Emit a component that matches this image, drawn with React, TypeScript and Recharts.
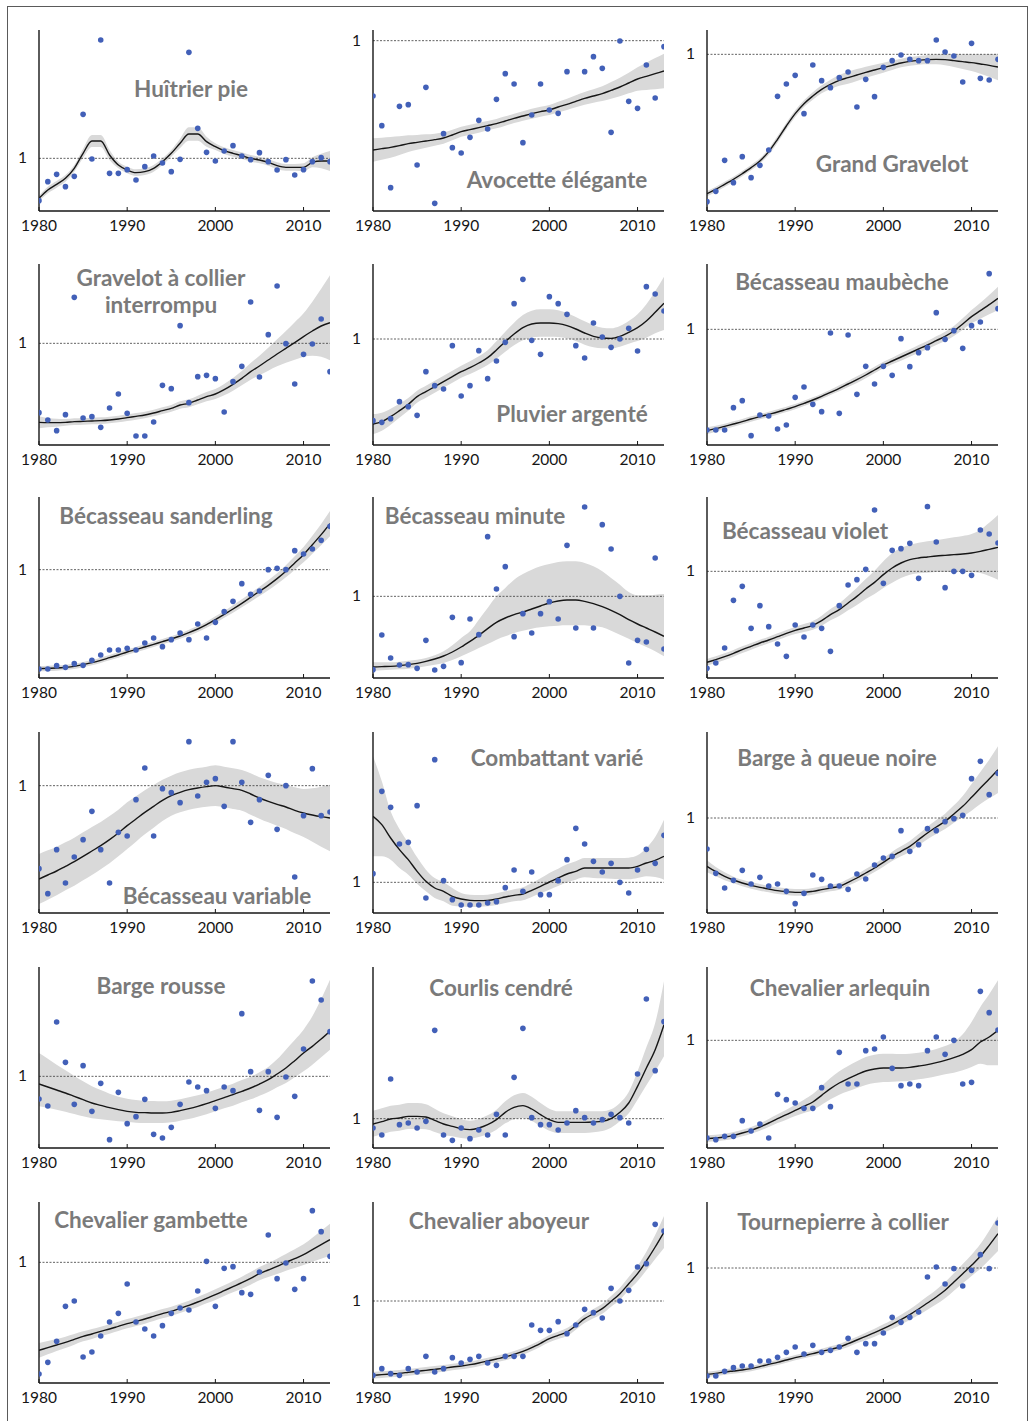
import React from 'react'
import {
  Area,
  ComposedChart,
  Line,
  ReferenceLine,
  Scatter,
  XAxis,
  YAxis,
} from 'recharts'

// survey years shared by every panel
const years = [
  1980, 1981, 1982, 1983, 1984, 1985, 1986, 1987, 1988, 1989, 1990, 1991,
  1992, 1993, 1994, 1995, 1996, 1997, 1998, 1999, 2000, 2001, 2002, 2003,
  2004, 2005, 2006, 2007, 2008, 2009, 2010, 2011, 2012, 2013,
]
const xTicks = [1980, 1990, 2000, 2010]

// Readings are heights above each panel's baseline; `one` is the level of index 1.
// The plot box is 543 of these units tall.
const PLOT_TOP = 543

const huitrierPts = [31, 88, 110, 73, 104, 290, 156, 513, 113, 113, 124, 93, 133, 165, 144, 118, 155, 476, 248, 176, 150, 180, 196, 165, 154, 175, 148, 123, 154, 108, 124, 148, 160, 148]
const huitrierFit = [38, 63, 80, 98, 128, 173, 210, 210, 168, 138, 123, 115, 118, 128, 148, 173, 203, 231, 231, 208, 193, 181, 173, 166, 158, 153, 146, 136, 131, 131, 131, 146, 150, 150]
const huitrierBand = [8, 10, 10, 10, 10, 14, 18, 18, 15, 10, 10, 10, 10, 10, 10, 10, 14, 20, 20, 15, 10, 10, 10, 10, 10, 10, 10, 10, 10, 10, 12, 15, 22, 30]
const huitrierOne = 158

const avocettePts = [345, 256, 70, 314, 319, 138, 371, 23, 232, 190, 174, 221, 272, 246, 335, 412, 381, 205, 288, 381, 303, 293, 418, null, 418, 463, 428, 236, 510, 329, 308, 438, 339, 493]
const avocetteFit = [183, 187, 191, 196, 202, 206, 210, 214, 219, 228, 238, 244, 250, 256, 262, 270, 278, 285, 292, 298, 303, 312, 320, 329, 338, 345, 352, 362, 372, 384, 396, 404, 412, 420]
const avocetteBand = [35, 33, 31, 28, 25, 22, 20, 18, 17, 16, 15, 15, 15, 14, 14, 14, 14, 14, 15, 15, 15, 16, 17, 18, 19, 20, 22, 25, 28, 31, 35, 41, 47, 52]
const avocetteOne = 511

const grandGravelotPts = [28, 59, 152, 85, 163, 100, 137, 183, 344, 381, 407, 292, 438, 391, 370, 400, 417, 312, 395, 343, 431, 451, 468, 455, 451, 451, 513, 477, 465, 387, 503, 398, 393, 455]
const grandGravelotFit = [52, 65, 80, 95, 112, 130, 150, 178, 215, 255, 292, 322, 345, 365, 380, 392, 400, 408, 416, 423, 430, 437, 444, 449, 452, 454, 455, 454, 451, 448, 445, 441, 437, 432]
const grandGravelotBand = [8, 8, 8, 8, 8, 8, 8, 9, 10, 10, 10, 10, 11, 12, 14, 16, 18, 18, 17, 16, 15, 14, 13, 13, 13, 14, 15, 17, 19, 22, 25, 29, 34, 40]
const grandGravelotOne = 470

const gravelotCollierPts = [97, 75, 43, 91, 443, 81, 85, 53, 111, 153, 95, 27, 27, 69, 179, 169, 358, 127, 205, 209, 199, 99, 190, 236, 429, 204, 331, 477, 304, 183, 272, 303, 378, 220]
const gravelotCollierFit = [68, 67, 67, 68, 70, 71, 72, 73, 75, 78, 82, 86, 90, 96, 103, 110, 120, 125, 135, 145, 153, 166, 182, 200, 220, 237, 255, 273, 290, 307, 325, 342, 357, 367]
const gravelotCollierUp = [18, 14, 12, 10, 10, 10, 10, 10, 10, 10, 10, 10, 10, 10, 10, 10, 11, 12, 13, 14, 15, 17, 19, 22, 26, 31, 37, 44, 52, 61, 70, 88, 112, 142]
const gravelotCollierDown = [18, 14, 12, 10, 10, 10, 10, 10, 10, 10, 10, 10, 10, 10, 10, 10, 11, 12, 13, 14, 15, 17, 19, 21, 24, 28, 32, 37, 43, 51, 60, 74, 92, 113]
const gravelotCollierOne = 305

const pluvierPts = [73, 68, 79, 130, 115, 89, 220, 178, 168, 298, 147, 178, 283, 199, 252, 308, 424, 497, 314, 272, 445, 424, 392, 298, 261, 366, 324, 293, 318, 350, 282, 475, 453, 402]
const pluvierFit = [63, 70, 85, 103, 122, 145, 160, 175, 190, 205, 220, 232, 246, 262, 285, 310, 333, 352, 363, 366, 366, 364, 358, 348, 336, 326, 321, 320, 326, 338, 352, 372, 398, 425]
const pluvierBand = [30, 27, 24, 21, 19, 18, 18, 18, 18, 18, 18, 19, 20, 22, 26, 30, 34, 38, 40, 41, 41, 40, 38, 36, 35, 33, 31, 30, 31, 34, 40, 50, 63, 80]
const pluvierOne = 318

const maubechePts = [45, 45, 45, 112, 133, 28, 90, 87, 48, 60, 143, 174, 122, 100, 336, 95, 330, 152, 236, 183, 236, 209, 319, 235, 277, 292, 397, 317, 343, 290, 358, 369, 514, 409]
const maubecheFit = [43, 49, 56, 63, 70, 78, 85, 92, 99, 107, 115, 125, 135, 146, 158, 170, 183, 196, 210, 225, 240, 252, 264, 276, 288, 300, 313, 326, 342, 363, 385, 403, 421, 440]
const maubecheBand = [10, 9, 8, 8, 8, 8, 8, 8, 8, 8, 8, 8, 8, 8, 8, 9, 9, 10, 10, 10, 10, 10, 11, 11, 12, 12, 13, 14, 15, 17, 20, 24, 29, 35]
const maubecheOne = 347

const sanderlingPts = [27, 27, 37, 32, 43, 38, 53, 69, 84, 84, 89, 84, 105, 120, 94, 115, 135, 115, 162, 120, 167, 199, 230, 283, 251, 261, 325, 329, 325, 382, 372, 387, 413, 455]
const sanderlingFit = [28, 29, 30, 32, 35, 40, 46, 53, 61, 69, 78, 85, 93, 101, 109, 117, 126, 136, 147, 160, 175, 191, 207, 224, 242, 260, 278, 298, 320, 345, 370, 400, 430, 463]
const sanderlingBand = [8, 8, 8, 8, 8, 8, 8, 8, 8, 8, 8, 8, 8, 8, 8, 8, 8, 9, 9, 9, 10, 10, 11, 12, 13, 14, 15, 16, 18, 20, 23, 27, 32, 38]
const sanderlingOne = 325

const minutePts = [25, 129, 60, 39, 40, 29, 113, 24, 35, 182, 46, 177, 130, 424, 267, 334, 124, 193, 135, 193, 229, 177, 398, 150, 513, 150, 460, 387, 245, 45, 113, 108, 360, 87]
const minuteFit = [33, 34, 35, 37, 40, 44, 50, 57, 66, 78, 93, 110, 128, 148, 167, 180, 190, 198, 207, 216, 225, 231, 234, 234, 230, 223, 214, 203, 190, 175, 162, 150, 138, 125]
const minuteUp = [14, 13, 12, 12, 12, 11, 10, 11, 14, 20, 27, 30, 47, 62, 78, 90, 105, 114, 118, 119, 117, 117, 116, 116, 115, 112, 106, 97, 90, 83, 86, 98, 112, 127]
const minuteDown = [11, 11, 10, 11, 12, 13, 15, 17, 21, 24, 28, 33, 38, 46, 52, 55, 55, 56, 59, 64, 70, 74, 76, 76, 72, 68, 62, 61, 60, 57, 57, 57, 58, 60]
const minuteOne = 245

const violetPts = [29, 45, 90, 233, 275, 149, 217, 154, 102, 65, 159, 123, 159, 149, 80, 217, 279, 295, 326, 504, 284, 383, 388, 404, 299, 514, 408, 271, 320, 320, 308, 444, 432, 405]
const violetFit = [47, 55, 64, 74, 85, 95, 105, 114, 124, 134, 143, 150, 158, 172, 190, 205, 225, 245, 267, 287, 310, 330, 345, 355, 360, 363, 366, 368, 370, 372, 375, 380, 386, 392]
const violetBand = [10, 10, 10, 10, 10, 10, 10, 10, 10, 10, 11, 12, 13, 15, 17, 19, 22, 26, 30, 35, 40, 44, 45, 45, 46, 47, 48, 50, 52, 54, 57, 65, 80, 97]
const violetOne = 320

const variablePts = [133, 58, 190, 90, 168, 220, 305, 190, 90, 242, 231, 340, 435, 231, 373, 361, 331, 514, 351, 392, 403, 320, 514, 392, 272, 340, 413, 251, 382, 108, 292, 433, 292, 303]
const variableFit = [102, 114, 126, 140, 154, 170, 186, 202, 220, 240, 262, 282, 302, 320, 338, 352, 362, 370, 375, 379, 382, 378, 373, 368, 357, 345, 335, 326, 318, 308, 300, 294, 289, 285]
const variableBand = [75, 74, 73, 72, 72, 72, 72, 71, 71, 70, 70, 68, 66, 64, 62, 60, 60, 60, 60, 60, 61, 61, 61, 61, 62, 62, 63, 64, 66, 69, 72, 80, 90, 100]
const variableOne = 382

const combattantPts = [118, 365, 317, 207, 212, 322, 45, 460, 97, 40, 24, 24, 24, 30, 34, 76, 129, 65, 123, 55, 55, 97, 160, 254, 207, 155, 123, 149, 92, 60, 129, 191, 149, 233]
const combattantFit = [290, 265, 225, 190, 160, 125, 95, 75, 65, 50, 42, 38, 37, 38, 42, 48, 53, 57, 68, 80, 93, 105, 117, 125, 135, 135, 135, 135, 135, 135, 140, 150, 158, 170]
const combattantUp = [180, 130, 80, 62, 50, 42, 35, 30, 28, 25, 18, 17, 17, 17, 17, 17, 18, 20, 22, 24, 27, 28, 29, 30, 30, 30, 30, 30, 30, 31, 33, 45, 70, 110]
const combattantDown = [120, 95, 65, 55, 45, 37, 30, 30, 30, 28, 22, 20, 18, 18, 18, 18, 18, 19, 20, 21, 23, 24, 25, 25, 28, 30, 31, 32, 33, 34, 35, 40, 50, 70]
const combattantOne = 92

const bargeQueuePts = [192, 119, 75, 98, 128, 87, 107, 81, 87, 65, 28, 59, 114, 101, 81, 81, 71, 117, 102, 144, 165, 170, 247, 185, 205, 253, 247, 274, 283, 293, 403, 455, 355, 419]
const bargeQueueFit = [140, 124, 110, 99, 90, 83, 77, 72, 67, 64, 62, 62, 65, 70, 75, 80, 92, 105, 120, 135, 152, 170, 185, 200, 220, 240, 258, 275, 297, 320, 347, 375, 402, 430]
const bargeQueueBand = [18, 14, 12, 10, 10, 10, 10, 10, 10, 10, 10, 10, 10, 10, 10, 10, 10, 11, 12, 12, 13, 14, 15, 16, 17, 19, 21, 23, 26, 31, 40, 48, 58, 70]
const bargeQueueOne = 285

const bargeRoussePts = [147, 126, 378, 257, 131, 247, 110, 194, 25, 167, 73, 94, 146, 41, 30, 62, 131, 198, 183, 172, 119, 183, 172, 403, 229, 113, 229, 92, 213, 155, 297, 501, 444, 349]
const bargeRousseFit = [192, 183, 174, 165, 155, 145, 135, 128, 121, 115, 110, 107, 106, 105, 105, 107, 112, 118, 125, 133, 142, 151, 160, 170, 180, 192, 205, 222, 240, 262, 285, 305, 327, 350]
const bargeRousseUp = [93, 85, 76, 68, 61, 55, 50, 46, 42, 39, 38, 37, 36, 36, 35, 35, 34, 34, 33, 33, 33, 33, 33, 34, 34, 35, 38, 44, 55, 62, 70, 90, 120, 155]
const bargeRousseDown = [67, 63, 59, 56, 53, 50, 46, 42, 38, 35, 32, 31, 31, 30, 30, 30, 30, 31, 31, 32, 32, 32, 33, 33, 34, 35, 37, 40, 45, 50, 55, 55, 55, 55]
const bargeRousseOne = 215

const courlisPts = [60, 39, 207, 70, 75, 60, 80, 353, 39, 23, 60, 28, 54, 39, 101, 39, 212, 359, 91, 70, 70, 54, 75, 112, 91, 75, 85, 101, 91, 75, 222, 447, 232, 379]
const courlisFit = [72, 79, 87, 90, 95, 95, 93, 83, 72, 65, 58, 55, 60, 70, 85, 107, 122, 127, 117, 100, 85, 77, 77, 77, 77, 78, 80, 88, 107, 135, 185, 240, 295, 370]
const courlisUp = [40, 40, 40, 40, 40, 40, 38, 35, 32, 30, 28, 27, 27, 28, 30, 33, 36, 38, 37, 35, 33, 33, 33, 33, 33, 32, 30, 28, 28, 33, 45, 62, 80, 130]
const courlisDown = [38, 38, 38, 38, 38, 38, 37, 35, 32, 30, 28, 27, 27, 28, 30, 33, 36, 37, 36, 34, 33, 32, 32, 32, 32, 31, 29, 27, 27, 31, 40, 52, 65, 95]
const courlisOne = 88

const arlequinPts = [30, 25, 35, 35, 82, 51, 72, 30, 161, 145, 135, 119, 119, 181, 124, 287, 192, 192, 292, 297, 333, 239, 187, 192, 187, 292, 333, 281, 323, 192, 197, 470, 406, 354]
const arlequinFit = [28, 30, 33, 38, 45, 53, 63, 75, 88, 100, 113, 125, 138, 158, 178, 195, 208, 220, 231, 237, 240, 240, 240, 242, 246, 250, 256, 263, 271, 281, 295, 318, 333, 353]
const arlequinUp = [10, 10, 10, 10, 10, 10, 11, 12, 13, 15, 17, 20, 24, 28, 32, 35, 38, 40, 42, 43, 43, 43, 42, 41, 40, 40, 41, 43, 47, 60, 83, 105, 128, 150]
const arlequinDown = [10, 10, 10, 10, 10, 10, 11, 12, 13, 15, 17, 20, 24, 28, 32, 35, 38, 40, 42, 42, 42, 41, 40, 40, 40, 40, 41, 42, 45, 48, 52, 65, 85, 105]
const arlequinOne = 323

const gambettePts = [27, 62, 125, 230, 246, 78, 93, 141, 183, 209, 297, 183, 162, 141, 172, 209, 225, 219, 276, 365, 230, 344, 349, 271, 266, 333, 444, 313, 360, 281, 313, 517, 454, 380]
const gambetteFit = [98, 106, 114, 122, 131, 140, 147, 155, 162, 170, 178, 185, 192, 200, 208, 215, 224, 233, 243, 254, 265, 277, 289, 301, 314, 328, 339, 350, 362, 373, 385, 400, 415, 430]
const gambetteBand = [22, 20, 18, 17, 16, 15, 15, 14, 14, 14, 14, 14, 14, 14, 14, 14, 14, 14, 15, 15, 16, 16, 17, 18, 19, 20, 21, 23, 25, 28, 31, 36, 42, 48]
const gambetteOne = 362

const aboyeurPts = [23, 43, 28, 23, 43, 33, 80, 33, 43, 76, 60, 71, 80, 60, 53, 80, 80, 80, 174, 158, 158, 184, 148, 174, 221, 211, 195, 284, 246, 278, 348, 358, 476, 456]
const aboyeurFit = [23, 25, 27, 29, 32, 35, 38, 41, 44, 48, 51, 55, 60, 66, 72, 78, 86, 95, 106, 119, 133, 143, 153, 172, 193, 208, 223, 245, 268, 298, 328, 366, 408, 453]
const aboyeurBand = [10, 10, 10, 10, 10, 10, 10, 10, 10, 10, 10, 10, 10, 10, 10, 10, 10, 10, 10, 10, 11, 11, 12, 12, 13, 14, 15, 16, 18, 20, 23, 28, 36, 48]
const aboyeurOne = 246

const tournepierrePts = [21, 21, 35, 46, 51, 51, 66, 66, 77, 92, 108, 87, 113, 92, 98, 108, 134, 92, 118, 118, 150, 197, 182, 197, 213, 318, 348, 297, 343, 291, 338, 385, 343, 480]
const tournepierreFit = [26, 29, 33, 36, 39, 43, 49, 56, 62, 69, 76, 82, 88, 95, 101, 108, 118, 129, 140, 151, 163, 176, 190, 205, 222, 240, 258, 278, 303, 328, 353, 380, 413, 448]
const tournepierreBand = [8, 8, 8, 8, 8, 8, 8, 8, 8, 8, 8, 8, 8, 8, 9, 9, 10, 10, 11, 12, 13, 14, 15, 16, 18, 20, 22, 24, 26, 29, 32, 37, 44, 52]
const tournepierreOne = 345

type Panel = {
  title: string[]
  pts: (number | null)[]
  fit: number[]
  up: number[]
  down: number[]
  one: number
  col: number
  row: number
  tx: number
  ty: number
}

const panels: Panel[] = [
  { title: ['Huîtrier pie'], pts: huitrierPts, fit: huitrierFit, up: huitrierBand, down: huitrierBand, one: huitrierOne, col: 0, row: 0, tx: 191, ty: 88 },
  { title: ['Avocette élégante'], pts: avocettePts, fit: avocetteFit, up: avocetteBand, down: avocetteBand, one: avocetteOne, col: 1, row: 0, tx: 557, ty: 179 },
  { title: ['Grand Gravelot'], pts: grandGravelotPts, fit: grandGravelotFit, up: grandGravelotBand, down: grandGravelotBand, one: grandGravelotOne, col: 2, row: 0, tx: 892, ty: 163 },
  { title: ['Gravelot à collier', 'interrompu'], pts: gravelotCollierPts, fit: gravelotCollierFit, up: gravelotCollierUp, down: gravelotCollierDown, one: gravelotCollierOne, col: 0, row: 1, tx: 161, ty: 291 },
  { title: ['Pluvier argenté'], pts: pluvierPts, fit: pluvierFit, up: pluvierBand, down: pluvierBand, one: pluvierOne, col: 1, row: 1, tx: 572, ty: 413 },
  { title: ['Bécasseau maubèche'], pts: maubechePts, fit: maubecheFit, up: maubecheBand, down: maubecheBand, one: maubecheOne, col: 2, row: 1, tx: 842, ty: 281 },
  { title: ['Bécasseau sanderling'], pts: sanderlingPts, fit: sanderlingFit, up: sanderlingBand, down: sanderlingBand, one: sanderlingOne, col: 0, row: 2, tx: 166, ty: 515 },
  { title: ['Bécasseau minute'], pts: minutePts, fit: minuteFit, up: minuteUp, down: minuteDown, one: minuteOne, col: 1, row: 2, tx: 475, ty: 515 },
  { title: ['Bécasseau violet'], pts: violetPts, fit: violetFit, up: violetBand, down: violetBand, one: violetOne, col: 2, row: 2, tx: 805, ty: 530 },
  { title: ['Bécasseau variable'], pts: variablePts, fit: variableFit, up: variableBand, down: variableBand, one: variableOne, col: 0, row: 3, tx: 217, ty: 895 },
  { title: ['Combattant varié'], pts: combattantPts, fit: combattantFit, up: combattantUp, down: combattantDown, one: combattantOne, col: 1, row: 3, tx: 557, ty: 757 },
  { title: ['Barge à queue noire'], pts: bargeQueuePts, fit: bargeQueueFit, up: bargeQueueBand, down: bargeQueueBand, one: bargeQueueOne, col: 2, row: 3, tx: 837, ty: 757 },
  { title: ['Barge rousse'], pts: bargeRoussePts, fit: bargeRousseFit, up: bargeRousseUp, down: bargeRousseDown, one: bargeRousseOne, col: 0, row: 4, tx: 161, ty: 985 },
  { title: ['Courlis cendré'], pts: courlisPts, fit: courlisFit, up: courlisUp, down: courlisDown, one: courlisOne, col: 1, row: 4, tx: 501, ty: 987 },
  { title: ['Chevalier arlequin'], pts: arlequinPts, fit: arlequinFit, up: arlequinUp, down: arlequinDown, one: arlequinOne, col: 2, row: 4, tx: 840, ty: 987 },
  { title: ['Chevalier gambette'], pts: gambettePts, fit: gambetteFit, up: gambetteBand, down: gambetteBand, one: gambetteOne, col: 0, row: 5, tx: 151, ty: 1219 },
  { title: ['Chevalier aboyeur'], pts: aboyeurPts, fit: aboyeurFit, up: aboyeurBand, down: aboyeurBand, one: aboyeurOne, col: 1, row: 5, tx: 499, ty: 1220 },
  { title: ['Tournepierre à collier'], pts: tournepierrePts, fit: tournepierreFit, up: tournepierreBand, down: tournepierreBand, one: tournepierreOne, col: 2, row: 5, tx: 843, ty: 1221 },
]

// where each y axis sits, and where each row's plot box starts
const colX = [39, 373, 707]
const rowTop = [30, 264, 497, 732, 967, 1202]

const CHART_W = 341
const CHART_H = 216
const AXIS_W = 40
const MARGIN = { top: 5, right: 5, bottom: 5, left: 5 }

const DOT = '#4260b8'
const INK = '#161616'
const FONT = 'Lato, "Open Sans", sans-serif'

const XTick = (props: any) => {
  const { x, y, payload } = props
  return (
    <g>
      <line x1={x} x2={x} y1={y - 4} y2={y} stroke={INK} strokeWidth={1} />
      <text x={x} y={y + 20} textAnchor="middle" fontFamily={FONT} fontSize={15.5} fill={INK}>
        {payload.value}
      </text>
    </g>
  )
}

const YTick = (props: any) => {
  const { x, y, payload } = props
  return (
    <text x={x - 12} y={y + 5} textAnchor="end" fontFamily={FONT} fontSize={15.5} fill={INK}>
      {payload.value}
    </text>
  )
}

const Dot = (props: any) => <circle cx={props.cx} cy={props.cy} r={2.8} fill={DOT} />

const PanelChart = ({ p }: { p: Panel }) => {
  const rows = years.map((year, i) => ({
    year,
    v: p.pts[i] == null ? null : (p.pts[i] as number) / p.one,
    fit: p.fit[i] / p.one,
    band: [(p.fit[i] - p.down[i]) / p.one, (p.fit[i] + p.up[i]) / p.one],
  }))
  const dots = rows.filter((r) => r.v != null)

  return (
    <div
      style={{
        position: 'absolute',
        left: colX[p.col] - MARGIN.left - AXIS_W,
        top: rowTop[p.row] - MARGIN.top,
      }}
    >
      <ComposedChart width={CHART_W} height={CHART_H} data={rows} margin={MARGIN}>
        <XAxis
          type="number"
          dataKey="year"
          domain={[1980, 2013]}
          ticks={xTicks}
          height={25}
          tickSize={0}
          tickMargin={0}
          tickLine={false}
          axisLine={{ stroke: INK, strokeWidth: 1.4 }}
          tick={<XTick />}
          allowDataOverflow
        />
        <YAxis
          type="number"
          domain={[0, PLOT_TOP / p.one]}
          ticks={[1]}
          width={AXIS_W}
          tickSize={0}
          tickMargin={0}
          tickLine={false}
          axisLine={{ stroke: INK, strokeWidth: 1.4 }}
          tick={<YTick />}
          allowDataOverflow
        />
        <Area
          type="monotone"
          dataKey="band"
          stroke="none"
          fill="#d9d9d9"
          fillOpacity={1}
          isAnimationActive={false}
        />
        <ReferenceLine y={1} stroke="#3a3a3a" strokeWidth={0.8} strokeDasharray="2 1.5" />
        <Line
          type="monotone"
          dataKey="fit"
          stroke={INK}
          strokeWidth={1.4}
          dot={false}
          isAnimationActive={false}
        />
        <Scatter data={dots} dataKey="v" shape={<Dot />} isAnimationActive={false} />
      </ComposedChart>
    </div>
  )
}

const Title = ({ p }: { p: Panel }) => (
  <div
    style={{
      position: 'absolute',
      left: p.tx,
      top: p.ty,
      transform: 'translate(-50%, -50%)',
      fontFamily: FONT,
      fontWeight: 700,
      fontSize: 22.5,
      lineHeight: '27px',
      color: '#7a7a7a',
      textAlign: 'center',
      whiteSpace: 'nowrap',
    }}
  >
    {p.title.map((t) => (
      <div key={t}>{t}</div>
    ))}
  </div>
)

export default function App() {
  return (
    <div
      style={{
        position: 'absolute',
        left: 0,
        top: 0,
        width: 1031,
        height: 1421,
        overflow: 'hidden',
        background: '#ffffff',
      }}
    >
      <div
        style={{
          position: 'absolute',
          left: 7,
          top: 6,
          width: 1019,
          height: 1430,
          border: '1.5px solid #5a5a5a',
        }}
      />
      {panels.map((p, i) => (
        <PanelChart key={i} p={p} />
      ))}
      {panels.map((p, i) => (
        <Title key={'t' + i} p={p} />
      ))}
    </div>
  )
}
